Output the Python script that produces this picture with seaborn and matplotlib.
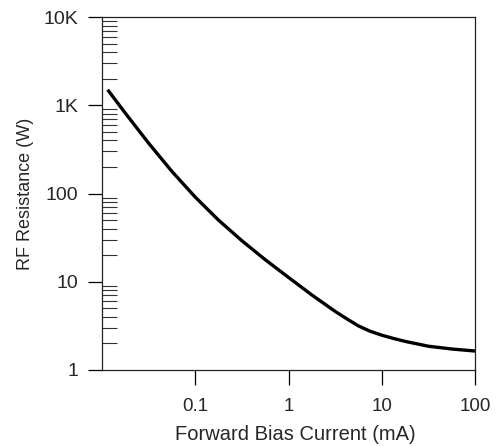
import matplotlib
matplotlib.use("Agg")
import matplotlib.pyplot as plt
import matplotlib.ticker as mticker
import numpy as np
import pandas as pd
import seaborn as sns

# Forward bias current (mA) and resulting RF resistance (ohms)
current_ma = [0.0115, 0.0178, 0.0316, 0.0562, 0.1, 0.178, 0.316, 0.562,
              1, 1.78, 3.16, 4.22, 5.62, 7.5, 10, 13.3, 17.8, 31.6, 56.2, 100]
rf_resistance = [1500, 813, 372, 178, 91, 49.8, 29.2, 17.8,
                 11.2, 7.08, 4.62, 3.80, 3.16, 2.75, 2.48, 2.28, 2.11, 1.86, 1.73, 1.64]

x_ticks = [0.1, 1, 10, 100]
x_tick_labels = ["0.1", "1", "10", "100"]
y_ticks = [1, 10, 100, 1000, 10000]
y_tick_labels = ["1", "10", "100", "1K", "10K"]

sns.set_style("white")
plt.rcParams["font.family"] = ["Liberation Sans", "DejaVu Sans"]

df = pd.DataFrame({"current": current_ma, "resistance": rf_resistance})

fig = plt.figure(figsize=(5.02, 4.46), dpi=100)
ax = fig.add_axes([102 / 502, 76 / 446, 373 / 502, 353 / 446])

sns.lineplot(data=df, x="current", y="resistance", ax=ax, color="black",
             linewidth=2.4, solid_capstyle="butt", solid_joinstyle="round")

ax.set_xscale("log")
ax.set_yscale("log")
ax.set_xlim(0.01, 100)
ax.set_ylim(1, 10000)

ax.set_xticks(x_ticks)
ax.set_xticklabels(x_tick_labels)
ax.xaxis.set_minor_locator(mticker.NullLocator())
ax.set_yticks(y_ticks)
ax.set_yticklabels(y_tick_labels)
ax.yaxis.set_minor_locator(mticker.LogLocator(base=10, subs=np.arange(2, 10)))
ax.yaxis.set_minor_formatter(mticker.NullFormatter())

ax.tick_params(axis="x", which="major", direction="out", length=11, width=0.9,
               pad=9, labelsize=13.5, color="black", bottom=True)
ax.tick_params(axis="y", which="major", direction="out", length=10, width=0.9,
               pad=7, labelsize=14, color="black", left=True)
ax.tick_params(axis="y", which="minor", direction="in", length=11, width=0.8,
               color="#333333", left=True)

for side in ["left", "right", "top", "bottom"]:
    ax.spines[side].set_visible(True)
    ax.spines[side].set_color("#222222")
    ax.spines[side].set_linewidth(0.9)

ax.set_xlabel("Forward Bias Current (mA)", fontsize=14.5)
ax.set_ylabel("RF Resistance (W)", fontsize=13)
ax.xaxis.set_label_coords(0.517, -0.184)
ax.yaxis.set_label_coords(-0.206, 0.5)
ax.xaxis.label.set_va("center")
ax.yaxis.label.set_va("center")

fig.savefig("out.png", dpi=100)
